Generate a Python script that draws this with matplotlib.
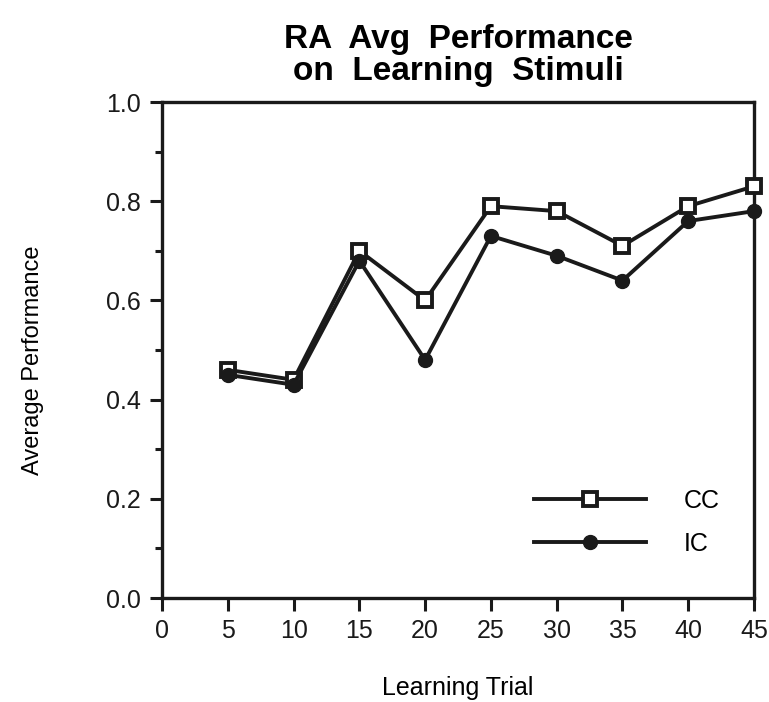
import numpy as np
import matplotlib.pyplot as plt
from matplotlib.ticker import MultipleLocator

plt.rcParams['font.family'] = ['Liberation Sans', 'DejaVu Sans']

trials = [5, 10, 15, 20, 25, 30, 35, 40, 45]
cc = [0.46, 0.44, 0.70, 0.60, 0.79, 0.78, 0.71, 0.79, 0.83]
ic = [0.45, 0.43, 0.68, 0.48, 0.73, 0.69, 0.64, 0.76, 0.78]

fig = plt.figure(figsize=(7.69, 7.02), dpi=100)
ax = fig.add_axes([0.2107, 0.1481, 0.7698, 0.7066])

ax.plot(trials, cc, color='#1a1a1a', lw=2.8, marker='s', ms=10, mfc='white',
        mec='#1a1a1a', mew=2.8, label='CC', clip_on=False, zorder=3)
ax.plot(trials, ic, color='#1a1a1a', lw=2.8, marker='o', ms=10, mfc='#1a1a1a',
        mec='#1a1a1a', label='IC', clip_on=False, zorder=3)

ax.set_xlim(0, 45)
ax.set_ylim(0, 1.0)
ax.set_xticks(range(0, 46, 5))
ax.set_yticks([0.0, 0.2, 0.4, 0.6, 0.8, 1.0])
ax.set_yticklabels(['0.0', '0.2', '0.4', '0.6', '0.8', '1.0'])
ax.yaxis.set_minor_locator(MultipleLocator(0.1))

for s in ax.spines.values():
    s.set_linewidth(2.4)
    s.set_color('#1a1a1a')
ax.tick_params(which='major', direction='out', length=9, width=2.2, labelsize=18, pad=6,
               colors='#1a1a1a')
ax.tick_params(which='minor', direction='out', length=5, width=2.2, colors='#1a1a1a')

ax.set_xlabel('Learning Trial', fontsize=18, labelpad=24)
ax.set_ylabel('Average Performance', fontsize=17)
ax.yaxis.set_label_coords(-0.2, 0.48)
ax.set_title('RA  Avg  Performance\non  Learning  Stimuli', fontsize=24,
             fontweight='bold', pad=16, x=0.5, linespacing=1.05)

leg = ax.legend(loc='lower right', bbox_to_anchor=(0.98, 0.04), frameon=False,
                fontsize=18, handlelength=4.5, handletextpad=1.5, labelspacing=0.75)

fig.savefig('out.png', dpi=100)
